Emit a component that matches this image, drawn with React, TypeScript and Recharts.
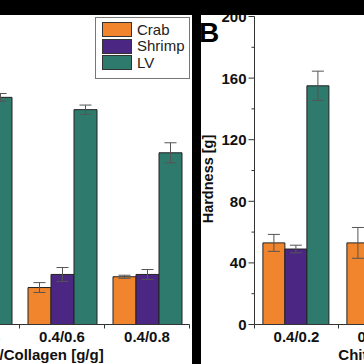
import React from 'react';
import { BarChart, Bar, XAxis, YAxis, ErrorBar, Legend, Label } from 'recharts';

// ---------- data ----------
const categories = ['0.4/0.2', '0.4/0.4', '0.4/0.6', '0.4/0.8'];

// Panel A (left, partly cropped)
const crabA = [30, 27, 24, 31];
const crabAErr = [2, 2, 3.2, 1];
const shrimpA = [34, 30, 32.5, 32.5];
const shrimpAErr = [3, 3, 4.5, 3.2];
const lvA = [150, 147.5, 139.5, 111.5];
const lvAErr = [3, 2.5, 3, 6.5];

// Panel B (right, partly cropped)
const crabB = [53, 53, 50, 48];
const crabBErr = [5.5, 10, 5, 5];
const shrimpB = [49, 45, 47, 50];
const shrimpBErr = [2.5, 4, 4, 4];
const lvB = [155, 140, 130, 120];
const lvBErr = [9.5, 6, 6, 6];

const hardnessTicks = [0, 20, 40, 60, 80, 100, 120, 140, 160, 180, 200];
const seriesNames = ['Crab', 'Shrimp', 'LV'];
const xLabel = 'Chitosan/Collagen [g/g]';
const yLabel = 'Hardness [g]';
const panelLetter = 'B';

const COLORS = ['#F0852D', '#4B2682', '#2E7A6D'];
const FONT = '"Liberation Sans", Arial, Helvetica, sans-serif';
const AXIS = '#333';

const dataA = categories.map((c, i) => ({
  cat: c,
  crab: crabA[i], crabErr: crabAErr[i],
  shrimp: shrimpA[i], shrimpErr: shrimpAErr[i],
  lv: lvA[i], lvErr: lvAErr[i],
}));
const dataB = categories.map((c, i) => ({
  cat: c,
  crab: crabB[i], crabErr: crabBErr[i],
  shrimp: shrimpB[i], shrimpErr: shrimpBErr[i],
  lv: lvB[i], lvErr: lvBErr[i],
}));

const TICK_MARGIN = 7;

const CatTick = (props: any) => {
  const { x, y, payload, index, visibleTicksCount } = props;
  const half = payload && payload.offset ? payload.offset : 42;
  const axisY = y - TICK_MARGIN;
  return (
    <g>
      <line x1={x - half} x2={x - half} y1={axisY} y2={axisY + 4} stroke={AXIS} strokeWidth={1} />
      {index === visibleTicksCount - 1 && (
        <line x1={x + half} x2={x + half} y1={axisY} y2={axisY + 4} stroke={AXIS} strokeWidth={1} />
      )}
      <text x={x} y={y} dy="0.71em" textAnchor="middle" fontFamily={FONT} fontWeight="bold" fontSize={15} fill="#111">
        {payload.value}
      </text>
    </g>
  );
};

const Y_MARGIN = 9;
const HardTick = (props: any) => {
  const { x, y, payload } = props;
  const axisX = x + Y_MARGIN;
  const major = payload.value % 40 === 0;
  return (
    <g>
      <line x1={axisX - (major ? 6 : 3)} x2={axisX} y1={y} y2={y} stroke={AXIS} strokeWidth={1} />
      {major && (
        <text x={x + 1} y={y} dy="0.36em" textAnchor="end" fontFamily={FONT} fontWeight="bold" fontSize={15} fill="#111">
          {payload.value}
        </text>
      )}
    </g>
  );
};

const LegendBox = (props: any) => {
  const items = [...(props.payload || [])].sort(
    (a: any, b: any) => seriesNames.indexOf(a.value) - seriesNames.indexOf(b.value)
  );
  return (
    <div
      style={{
        width: 95,
        height: 62,
        boxSizing: 'border-box',
        border: '1px solid #777',
        background: '#fff',
        padding: '4px 0 0 6px',
        fontFamily: FONT,
      }}
    >
      {items.map((p: any) => (
        <div key={p.value} style={{ display: 'flex', alignItems: 'center', height: 16.5 }}>
          <span
            style={{
              display: 'inline-block',
              width: 30,
              height: 15,
              boxSizing: 'border-box',
              background: p.color,
              border: '1px solid #333',
            }}
          />
          <span style={{ marginLeft: 5, fontSize: 15, color: '#222', lineHeight: '16px' }}>{p.value}</span>
        </div>
      ))}
    </div>
  );
};

const YLabelContent = (props: any) => {
  const vb = props.viewBox || {};
  const cx = vb.x + 13;
  const cy = vb.y + vb.height / 2 + 8.5;
  return (
    <text
      x={cx}
      y={cy}
      transform={`rotate(-90, ${cx}, ${cy})`}
      textAnchor="middle"
      dominantBaseline="central"
      fontFamily={FONT}
      fontWeight="bold"
      fontSize={14.5}
      fill="#111"
    >
      {yLabel}
    </text>
  );
};

const bars = (withLegend: boolean) => {
  const keys = ['crab', 'shrimp', 'lv'];
  return keys.map((k, i) => (
    <Bar
      key={k}
      dataKey={k}
      name={seriesNames[i]}
      fill={COLORS[i]}
      stroke="#222"
      strokeWidth={1}
      isAnimationActive={false}
      legendType={withLegend ? 'square' : 'none'}
    >
      <ErrorBar dataKey={k + 'Err'} width={6} stroke="#555" strokeWidth={1} direction="y" />
    </Bar>
  ));
};

export default function App() {
  return (
    <div
      style={{
        position: 'absolute',
        left: 0,
        top: 0,
        width: 364,
        height: 364,
        overflow: 'hidden',
        background: '#fff',
      }}
    >
      {/* Left panel (A) */}
      <div style={{ position: 'absolute', left: -200, top: 0, width: 400, height: 364 }}>
        <BarChart
          width={400}
          height={364}
          data={dataA}
          margin={{ top: 16.5, right: 10.5, left: 49.5, bottom: 0 }}
          barCategoryGap="10%"
          barGap={0}
        >
          <XAxis
            dataKey="cat"
            height={39.5}
            tickSize={0}
            tickMargin={TICK_MARGIN}
            tickLine={false}
            tick={<CatTick />}
            interval={0}
            axisLine={{ stroke: AXIS }}
          >
            <Label value={xLabel} position="insideBottom" offset={4} fontFamily={FONT} fontWeight="bold" fontSize={15} fill="#111" />
          </XAxis>
          <XAxis xAxisId="top" dataKey="cat" orientation="top" height={0} tick={false} tickLine={false} axisLine={{ stroke: AXIS }} />
          <YAxis hide domain={[0, 200]} />
          <YAxis yAxisId="right" orientation="right" width={0} domain={[0, 200]} tick={false} tickLine={false} axisLine={{ stroke: '#666' }} />
          {bars(true)}
          <Legend
            layout="horizontal"
            verticalAlign="middle"
            align="center"
            content={<LegendBox />}
            wrapperStyle={{ position: 'absolute', left: 295, top: 16.5, width: 95, height: 62 }}
          />
        </BarChart>
      </div>

      {/* Right panel (B) */}
      <div style={{ position: 'absolute', left: 150, top: 0, width: 460, height: 364 }}>
        <BarChart
          width={460}
          height={364}
          data={dataB}
          margin={{ top: 16.5, right: 19.5, left: 44.5, bottom: 0 }}
          barCategoryGap="10%"
          barGap={0}
        >
          <XAxis
            dataKey="cat"
            height={39.5}
            tickSize={0}
            tickMargin={TICK_MARGIN}
            tickLine={false}
            tick={<CatTick />}
            interval={0}
            axisLine={{ stroke: AXIS }}
          >
            <Label value={xLabel} position="insideBottom" offset={4} fontFamily={FONT} fontWeight="bold" fontSize={15} fill="#111" />
          </XAxis>
          <XAxis xAxisId="top" dataKey="cat" orientation="top" height={0} tick={false} tickLine={false} axisLine={{ stroke: AXIS }} />
          <YAxis
            width={60}
            domain={[0, 200]}
            ticks={hardnessTicks}
            interval={0}
            tickSize={0}
            tickMargin={Y_MARGIN}
            tickLine={false}
            tick={<HardTick />}
            axisLine={{ stroke: AXIS }}
            label={<YLabelContent />}
          />
          {bars(false)}
        </BarChart>
      </div>

      {/* figure cropping artefacts: black bands */}
      <div style={{ position: 'absolute', left: 0, top: 0, width: 364, height: 15, background: '#000' }} />
      <div style={{ position: 'absolute', left: 192, top: 0, width: 9, height: 364, background: '#000' }} />
      <svg style={{ position: 'absolute', left: 0, top: 0 }} width={364} height={364}>
        <text x={199} y={42} fontFamily={FONT} fontWeight="bold" fontSize={28} fill="#000">
          {panelLetter}
        </text>
      </svg>
    </div>
  );
}
